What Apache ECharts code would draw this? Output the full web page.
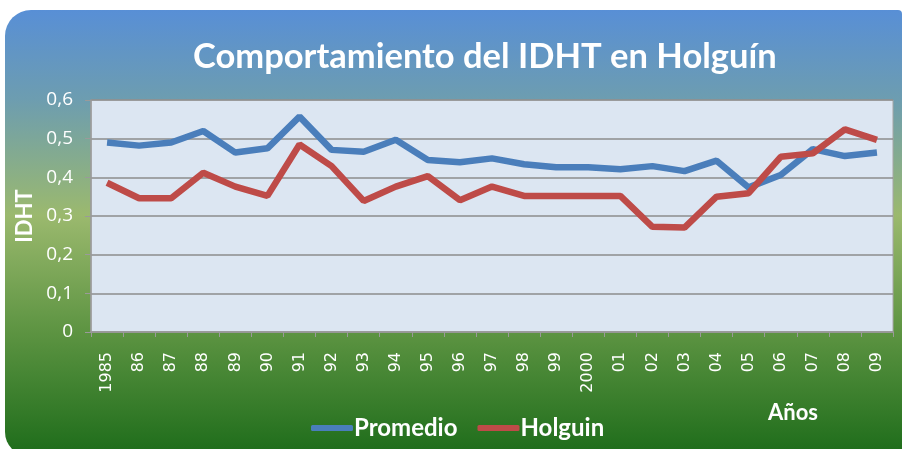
<!DOCTYPE html>
<html>
<head>
<meta charset="utf-8">
<script src="https://cdn.jsdelivr.net/npm/echarts@6/dist/echarts.min.js"></script>
<style>
  html, body { margin: 0; padding: 0; background: #fff; }
  #bg {
    position: absolute; left: 5px; top: 10px; width: 897px; height: 446px;
    border-radius: 26px 4px 0 24px / 26px 4px 0 24px;
    background: linear-gradient(to bottom, #588fd6 0%, #6d9db0 20%, #9bb96e 46%, #5d9442 72%, #1d6c1a 100%);
  }
  #chart { position: absolute; left: 0; top: 0; width: 903px; height: 449px; }
</style>
</head>
<body>
<div id="bg"></div>
<div id="chart"></div>
<script>
// years on the x axis
const years = ['1985', '86', '87', '88', '89', '90', '91', '92', '93', '94', '95', '96', '97',
  '98', '99', '2000', '01', '02', '03', '04', '05', '06', '07', '08', '09'];

const promedio = [0.49, 0.482, 0.49, 0.52, 0.464, 0.475, 0.557, 0.471, 0.466, 0.497, 0.445, 0.439, 0.449,
  0.434, 0.426, 0.426, 0.421, 0.429, 0.416, 0.443, 0.374, 0.406, 0.473, 0.455, 0.464];

const holguin = [0.386, 0.346, 0.346, 0.412, 0.376, 0.352, 0.485, 0.429, 0.339, 0.376, 0.403, 0.341, 0.376,
  0.352, 0.352, 0.352, 0.352, 0.272, 0.270, 0.350, 0.359, 0.453, 0.462, 0.524, 0.497];

const chart = echarts.init(document.getElementById('chart'));

chart.setOption({
  backgroundColor: 'transparent',
  title: {
    text: 'Comportamiento del IDHT en Holguín',
    left: 188,
    top: 34,
    textStyle: { color: '#fff', fontFamily: 'Lato', fontWeight: 'bold', fontSize: 34.5 }
  },
  legend: {
    left: 306,
    top: 411,
    itemGap: 20,
    itemWidth: 42,
    itemHeight: 6,
    icon: 'roundRect',
    textStyle: { color: '#fff', fontFamily: 'Lato', fontWeight: 'bold', fontSize: 24, padding: [0, 0, 0, -4] },
    data: ['Promedio', 'Holguin']
  },
  graphic: [{
    type: 'text',
    left: 768,
    top: 402,
    style: { text: 'Años', fill: '#fff', font: 'bold 22px Lato' }
  }],
  grid: {
    left: 91, right: 10, top: 100, bottom: 117,
    show: true,
    backgroundColor: '#dce6f2',
    borderColor: '#a6a6a6',
    borderWidth: 1
  },
  xAxis: {
    type: 'category',
    data: years,
    boundaryGap: true,
    axisLine: { lineStyle: { color: '#9a9a9a', width: 1.5 } },
    axisTick: { show: true, interval: 0, length: 5, lineStyle: { color: '#9a9a9a' } },
    axisLabel: {
      interval: 0, rotate: 90, margin: 20,
      color: '#fff', fontFamily: 'DejaVu Sans', fontSize: 16
    }
  },
  yAxis: {
    type: 'value',
    min: 0, max: 0.6, interval: 0.1,
    name: 'IDHT',
    nameLocation: 'middle',
    nameRotate: 90,
    nameGap: 52,
    nameTextStyle: { color: '#fff', fontFamily: 'Lato', fontWeight: 'bold', fontSize: 22 },
    axisLine: { show: true, lineStyle: { color: '#9a9a9a', width: 1.5 } },
    axisTick: { show: true, length: 6, lineStyle: { color: '#9a9a9a' } },
    axisLabel: {
      margin: 18, color: '#fff', fontFamily: 'Open Sans', fontSize: 19,
      formatter: v => (v === 0 ? '0' : v.toFixed(1).replace('.', ','))
    },
    splitLine: { lineStyle: { color: '#8c8c8c', width: 1.5 } }
  },
  series: [
    {
      name: 'Promedio', type: 'line', data: promedio,
      showSymbol: false, symbol: 'none',
      lineStyle: { color: '#4a7ebb', width: 6.5 },
      itemStyle: { color: '#4a7ebb' }
    },
    {
      name: 'Holguin', type: 'line', data: holguin,
      showSymbol: false, symbol: 'none',
      lineStyle: { color: '#be4b48', width: 6.5 },
      itemStyle: { color: '#be4b48' }
    }
  ]
});
</script>
</body>
</html>
